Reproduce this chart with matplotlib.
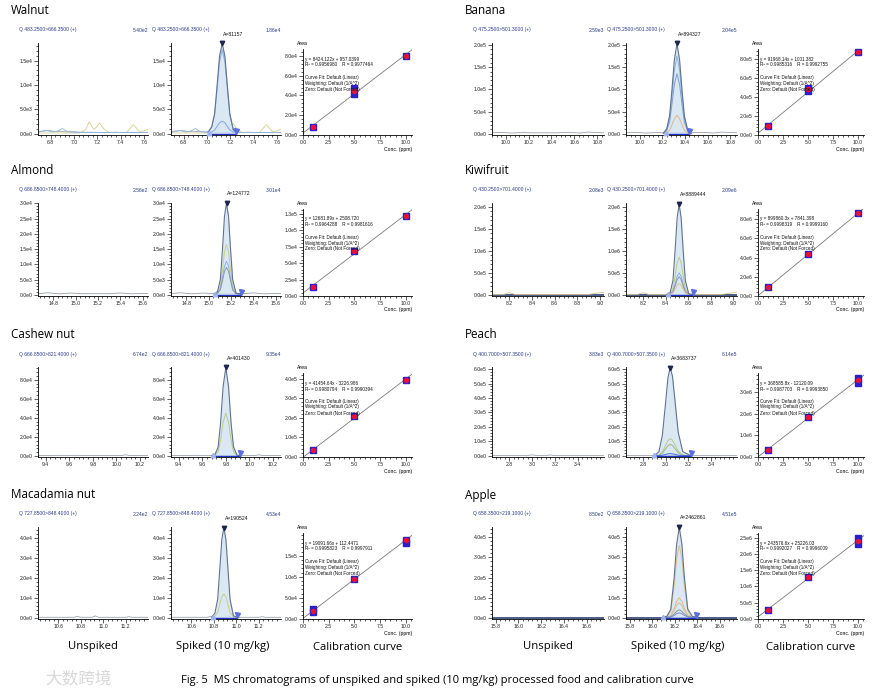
import numpy as np
import matplotlib
matplotlib.use("Agg")
import matplotlib.pyplot as plt
from matplotlib.ticker import FixedLocator, AutoMinorLocator, FuncFormatter

W, H = 896, 691

# ---- data ----
samples = ["Walnut", "Banana", "Almond", "Kiwifruit",
           "Cashew nut", "Peach", "Macadamia nut", "Apple"]
transitions = ["483.2500>666.3500", "475.2500>501.3000", "686.8500>748.4000", "430.2500>701.4000",
               "666.8500>821.4000", "400.7000>507.3500", "727.8500>848.4000", "658.3500>219.1000"]
unspiked_max = ["5.40e2", "2.59e3", "2.56e2", "2.08e3", "6.74e2", "3.83e3", "2.24e2", "8.50e2"]
spiked_max = [1.86e4, 2.04e5, 3.01e4, 2.09e6, 9.35e4, 6.14e5, 4.53e4, 4.51e5]
peak_area = [81157, 894327, 124772, 8889444, 401430, 3683737, 190524, 2462861]

rt_range = [(6.69, 7.635), (9.88, 10.86), (14.663, 15.648), (8.047, 9.035),
            (9.335, 10.268), (2.648, 3.631), (10.419, 11.399), (15.768, 16.752)]
rt_ticks = [[6.8, 7.0, 7.2, 7.4, 7.6], [10.0, 10.2, 10.4, 10.6, 10.8],
            [14.8, 15.0, 15.2, 15.4, 15.6], [8.2, 8.4, 8.6, 8.8, 9.0],
            [9.4, 9.6, 9.8, 10.0, 10.2], [2.8, 3.0, 3.2, 3.4],
            [10.6, 10.8, 11.0, 11.2], [15.8, 16.0, 16.2, 16.4, 16.6]]
int_ticks = [[0, 5e3, 1e4, 1.5e4], [0, 5e4, 1e5, 1.5e5, 2e5],
             [0, 5e3, 1e4, 1.5e4, 2e4, 2.5e4, 3e4], [0, 5e5, 1e6, 1.5e6, 2e6],
             [0, 2e4, 4e4, 6e4, 8e4], [0, 1e5, 2e5, 3e5, 4e5, 5e5, 6e5],
             [0, 1e4, 2e4, 3e4, 4e4], [0, 1e5, 2e5, 3e5, 4e5]]

# integration window (start, end) of the spiked peak
peak_window = [(7.02, 7.245), (10.235, 10.44), (15.06, 15.29), (8.42, 8.64),
               (9.69, 9.92), (2.90, 3.22), (10.79, 11.01), (16.095, 16.39)]

peak_t = [
    [7.01, 7.04, 7.065, 7.085, 7.107, 7.13, 7.153, 7.175, 7.195, 7.225, 7.255],
    [10.21, 10.24, 10.265, 10.285, 10.307, 10.33, 10.353, 10.375, 10.395, 10.425, 10.455],
    [15.05, 15.08, 15.105, 15.125, 15.142, 15.16, 15.178, 15.195, 15.215, 15.245, 15.29],
    [8.41, 8.44, 8.465, 8.485, 8.502, 8.52, 8.538, 8.555, 8.575, 8.605, 8.64],
    [9.68, 9.71, 9.735, 9.755, 9.777, 9.80, 9.823, 9.845, 9.865, 9.895, 9.925],
    [2.90, 2.94, 2.97, 3.00, 3.02, 3.04, 3.06, 3.08, 3.11, 3.15, 3.22],
    [10.78, 10.81, 10.835, 10.855, 10.872, 10.89, 10.908, 10.925, 10.945, 10.975, 11.01],
    [16.09, 16.13, 16.165, 16.195, 16.217, 16.24, 16.263, 16.285, 16.315, 16.355, 16.40],
]
peak_main = [
    [400, 1450, 4200, 9600, 15900, 18500, 15900, 9600, 4200, 850, 330],
    [1500, 12000, 41000, 97000, 166000, 203000, 166000, 97000, 41000, 8000, 1500],
    [300, 1100, 5100, 15600, 25800, 30000, 25800, 15600, 5100, 600, 300],
    [10000, 55000, 330000, 1050000, 1750000, 2060000, 1750000, 1050000, 330000, 25000, 10000],
    [300, 1900, 9600, 33800, 72800, 93000, 72800, 33800, 9600, 800, 300],
    [2000, 30000, 143000, 378000, 543000, 610000, 548000, 395000, 165000, 30000, 2000],
    [300, 2300, 9300, 25500, 39200, 45000, 39200, 25500, 9300, 1000, 300],
    [1500, 8000, 42000, 200000, 365000, 450000, 368000, 205000, 45000, 8000, 1500],
]
peak_inner = [
    [[380, 1350, 3900, 8900, 14700, 17200, 14700, 8900, 3900, 800, 320],
     [300, 400, 800, 1500, 2300, 2600, 2300, 1500, 800, 400, 300]],
    [[1300, 10500, 35000, 84000, 143000, 175000, 143000, 84000, 35000, 7000, 1300],
     [1200, 8000, 27000, 65000, 111000, 135000, 111000, 65000, 27000, 5400, 1200],
     [800, 2500, 8400, 20000, 34000, 42000, 34000, 20000, 8400, 1700, 800]],
    [[300, 700, 2900, 8600, 14100, 16500, 14100, 8600, 2900, 450, 300],
     [300, 580, 2000, 5800, 9400, 11000, 9400, 5800, 2000, 400, 300],
     [300, 530, 1700, 4800, 7700, 9000, 7700, 4800, 1700, 380, 300]],
    [[10000, 30000, 140000, 440000, 730000, 860000, 730000, 440000, 140000, 15000, 10000],
     [10000, 20000, 80000, 255000, 425000, 500000, 425000, 255000, 80000, 12000, 10000],
     [10000, 18000, 66000, 210000, 350000, 410000, 350000, 210000, 66000, 11000, 10000],
     [10000, 15000, 42000, 133000, 221000, 260000, 221000, 133000, 42000, 10000, 10000]],
    [[300, 1000, 4800, 16500, 35300, 45000, 35300, 16500, 4800, 500, 300]],
    [[2000, 7000, 28000, 74000, 107000, 120000, 108000, 78000, 33000, 6000, 2000],
     [2000, 5000, 19000, 50000, 71000, 80000, 72000, 52000, 22000, 4000, 2000],
     [2000, 2500, 5000, 10500, 14500, 16000, 14500, 11000, 5500, 2500, 2000]],
    [[300, 800, 2700, 7000, 10500, 12000, 10500, 7000, 2700, 500, 300]],
    [[1500, 6000, 33000, 158000, 292000, 360000, 294000, 162000, 36000, 6000, 1500],
     [1500, 4000, 12000, 46000, 82000, 100000, 83000, 48000, 14000, 4000, 1500],
     [1500, 3500, 10000, 35000, 62000, 75000, 62000, 36000, 11000, 3500, 1500],
     [1500, 2500, 6000, 19000, 33000, 40000, 33000, 20000, 6500, 2500, 1500],
     [1500, 2000, 4500, 12000, 21000, 25000, 21000, 12500, 5000, 2000, 1500]],
]
inner_colors = [
    ["#8db3e2", "#7fa7e8"],
    ["#8db3e2", "#7f9fd0", "#e8b48a"],
    ["#c7cf8c", "#8db3e2", "#8e96a3"],
    ["#b8cc8a", "#8db3e2", "#8e96a3", "#d9c48f"],
    ["#b8cc8a"],
    ["#b8cc8a", "#a0b48a", "#4a6ee0"],
    ["#c7cf8c"],
    ["#d9c48f", "#e8b48a", "#c8c8a0", "#8e96a3", "#7a8fd6"],
]

# background traces (shared by unspiked and spiked runs)
noise_t = [
    [[6.69, 6.74, 6.78, 6.84, 6.88, 6.95, 7.00, 7.05, 7.30, 7.36, 7.42, 7.47, 7.55, 7.635],
     [6.69, 7.05, 7.10, 7.13, 7.17, 7.20, 7.22, 7.26, 7.30, 7.45, 7.51, 7.56, 7.60, 7.635],
     [6.69, 6.72, 6.76, 6.82, 6.86, 6.90, 6.94, 7.00, 7.635]],
    [[9.88, 9.95, 10.05, 10.15, 10.22, 10.45, 10.55, 10.65, 10.72, 10.86]],
    [[14.663, 14.75, 14.85, 14.95, 15.05, 15.30, 15.40, 15.50, 15.648]],
    [[8.047, 9.035],
     [8.047, 8.15, 8.2, 8.25, 8.9, 8.97, 9.035]],
    [[9.335, 9.6, 9.9, 10.05, 10.08, 10.11, 10.268]],
    [[2.648, 2.95, 3.0, 3.05, 3.12, 3.16, 3.2, 3.631]],
    [[10.419, 10.74, 10.77, 10.8, 10.9, 10.93, 10.96, 11.2, 11.23, 11.26, 11.399]],
    [[15.768, 16.752]],
]
noise_y = [
    [[500, 600, 700, 500, 550, 400, 450, 350, 300, 350, 250, 300, 250, 350],
     [200, 200, 900, 2500, 900, 1600, 2200, 900, 300, 300, 1900, 500, 600, 1000],
     [300, 500, 700, 400, 600, 1100, 500, 300, 300]],
    [[2500, 3500, 2000, 3000, 2500, 2500, 3500, 2000, 4000, 2500]],
    [[400, 700, 350, 600, 400, 400, 650, 350, 500]],
    [[0, 0],
     [10000, 10000, 50000, 10000, 10000, 40000, 60000]],
    [[500, 600, 500, 500, 1200, 500, 500]],
    [[2000, 2000, 7000, 2000, 2000, 7000, 2000, 2000]],
    [[300, 300, 700, 300, 300, 1000, 300, 300, 600, 300, 300]],
    [[1500, 1500]],
]
noise_colors = [["#9aa0a8", "#d6cf8e", "#8db3e2"], ["#9aa0a8"], ["#9aa0a8"],
                ["#2b3f73", "#d9c48f"], ["#9aa0a8"], ["#9aa0a8"], ["#9aa0a8"], ["#2b3f73"]]

# calibration: concentrations, replicate areas, mean area
cal_conc = [1, 5, 10]
cal_reps = [
    [[8.1e3], [4.8e4, 4.1e4], [8.0e4]],
    [[9.0e4], [4.9e5, 4.65e5], [8.75e5]],
    [[1.43e4], [6.8e4], [1.22e5]],
    [[8.9e5], [4.34e6], [8.64e6]],
    [[3.4e4], [2.07e5], [3.95e5]],
    [[3.4e5], [1.85e6], [3.42e6, 3.69e6]],
    [[1.55e4, 2.3e4], [9.56e4], [1.8e5, 1.88e5]],
    [[2.75e5], [1.29e6], [2.29e6, 2.49e6]],
]
cal_mean = [
    [8.1e3, 4.5e4, 8.0e4],
    [9.0e4, 4.8e5, 8.75e5],
    [1.43e4, 6.8e4, 1.22e5],
    [8.9e5, 4.34e6, 8.64e6],
    [3.4e4, 2.07e5, 3.95e5],
    [3.4e5, 1.85e6, 3.57e6],
    [1.94e4, 9.56e4, 1.87e5],
    [2.75e5, 1.29e6, 2.4e6],
]
cal_top = [8.7e4, 9.06e5, 1.32e5, 9.07e6, 4.29e5, 3.9e6, 2.04e5, 2.64e6]
cal_ticks = [[0, 2e4, 4e4, 6e4, 8e4], [0, 2e5, 4e5, 6e5, 8e5],
             [0, 2.5e4, 5e4, 7.5e4, 1e5, 1.25e5], [0, 2e6, 4e6, 6e6, 8e6],
             [0, 1e5, 2e5, 3e5, 4e5], [0, 1e6, 2e6, 3e6],
             [0, 5e4, 1e5, 1.5e5], [0, 5e5, 1e6, 1.5e6, 2e6, 2.5e6]]
cal_eq = [
    ("y = 8424.122x + 957.0399", "R\u00b2 = 0.9956980    R = 0.9977464"),
    ("y = 91968.14x + 1001.382", "R\u00b2 = 0.9985316    R = 0.9992755"),
    ("y = 12681.89x + 2508.720", "R\u00b2 = 0.9964288    R = 0.9981616"),
    ("y = 899860.3x + 7841.398", "R\u00b2 = 0.9998319    R = 0.9999160"),
    ("y = 41454.64x - 3226.986", "R\u00b2 = 0.9980794    R = 0.9990394"),
    ("y = 368585.8x - 12120.09", "R\u00b2 = 0.9987703    R = 0.9993850"),
    ("y = 19091.66x + 112.4471", "R\u00b2 = 0.9995823    R = 0.9997911"),
    ("y = 243576.6x + 25226.03", "R\u00b2 = 0.9992027    R = 0.9996009"),
]
cal_info = ["Curve Fit: Default (Linear)", "Weighting: Default (1/A^2)", "Zero: Default (Not Forced)"]

# ---- layout (pixels) ----
col_x = [[(38, 148), (171, 281), (303, 412)],
         [(492, 604), (626, 737), (758, 864)]]
row_top = [43, 203, 367, 527]
row_bot = [135, 296, 457, 619]

BIG = "Open Sans"
SMALL = "Liberation Sans"
NAVY = "#2d3c8c"


def sci_label(v, pos=None):
    if v == 0:
        return "0.0e0"
    e = int(np.floor(np.log10(abs(v))))
    m = np.floor(v / 10 ** e * 10 + 0.5) / 10
    if m >= 10:
        m, e = m / 10, e + 1
    return f"{m:.1f}e{e}"


def px_axes(fig, x0, x1, y0, y1):
    return fig.add_axes([x0 / W, 1 - y1 / H, (x1 - x0) / W, (y1 - y0) / H])


def style_axes(ax):
    for s in ("top", "right"):
        ax.spines[s].set_visible(False)
    for s in ("left", "bottom"):
        ax.spines[s].set_linewidth(0.6)
    ax.tick_params(which="major", length=2.6, width=0.5, labelsize=3.7, pad=1.2,
                   colors="#222222")
    ax.tick_params(which="minor", length=1.4, width=0.45)
    for lab in ax.get_xticklabels() + ax.get_yticklabels():
        lab.set_family(SMALL)
    ax.xaxis.set_minor_locator(AutoMinorLocator(5))
    ax.yaxis.set_minor_locator(AutoMinorLocator(5))
    ax.patch.set_alpha(0)


fig = plt.figure(figsize=(W / 100, H / 100), dpi=100)

for i, name in enumerate(samples):
    row, grp = i // 2, i % 2
    top, bot = row_top[row], row_bot[row]
    ymax = spiked_max[i]
    lo, hi = rt_range[i]

    fig.text((col_x[grp][0][0] - 27) / W, 1 - (top - 32) / H, name, family=BIG,
             fontsize=8.4, va="center", ha="left")

    for k in range(2):
        x0, x1 = col_x[grp][k]
        ax = px_axes(fig, x0, x1, top, bot)
        ax.set_xlim(lo, hi)
        ax.set_ylim(-0.012 * ymax, ymax)
        ax.xaxis.set_major_locator(FixedLocator(rt_ticks[i]))
        ax.yaxis.set_major_locator(FixedLocator(int_ticks[i]))
        ax.xaxis.set_major_formatter(FuncFormatter(lambda v, p: f"{v:.1f}"))
        ax.yaxis.set_major_formatter(FuncFormatter(sci_label))
        style_axes(ax)

        for t, y, c in zip(noise_t[i], noise_y[i], noise_colors[i]):
            lw = 1.2 if c == "#2b3f73" else 0.6
            ax.plot(t, y, color=c, lw=lw, zorder=2)

        head = "Q " + transitions[i] + " (+)"
        fig.text((x0 - 19) / W, 1 - (top - 13) / H, head, family=SMALL, fontsize=3.6,
                 color=NAVY, va="center")
        if k == 0:
            right_lab = unspiked_max[i]
        else:
            right_lab = f"{spiked_max[i]:.2e}".replace("e+0", "e")
        fig.text(x1 / W, 1 - (top - 13) / H, right_lab, family=SMALL, fontsize=3.6,
                 color=NAVY, va="center", ha="right")

        if k == 1:
            t = peak_t[i]
            ax.fill_between(t, 0, peak_main[i], color="#d3e4f1", alpha=0.85, lw=0, zorder=3)
            for yv, c in zip(peak_inner[i], inner_colors[i]):
                ax.plot(t, yv, color=c, lw=0.7, zorder=4)
            ax.plot(t, peak_main[i], color="#5f7391", lw=0.8, zorder=5)
            s, e = peak_window[i]
            ax.plot([s, e], [0, 0], color="#2233cc", lw=1.0, zorder=6)
            ax.plot([s], [0.01 * ymax], marker="^", ms=3.2, color="#9fb4ee", zorder=7,
                    clip_on=False)
            ax.plot([e], [0.035 * ymax], marker="v", ms=3.6, color="#5c6fe0", zorder=7,
                    clip_on=False)
            apex = int(np.argmax(peak_main[i]))
            ax.plot([t[apex]], [peak_main[i][apex]], marker="v", ms=3.2, color="#1c2550",
                    zorder=8, clip_on=False)
            ax.annotate(f"A={peak_area[i]}", (t[apex], peak_main[i][apex]),
                        xytext=(0.5, 5), textcoords="offset points", fontsize=3.7,
                        family=SMALL, color="#111111", ha="left", va="bottom",
                        annotation_clip=False)

    # calibration curve
    x0, x1 = col_x[grp][2]
    cax = px_axes(fig, x0, x1, top + 6, bot)
    cax.set_xlim(0, 10.6)
    cax.set_ylim(0, cal_top[i])
    cax.xaxis.set_major_locator(FixedLocator([0, 2.5, 5, 7.5, 10]))
    cax.yaxis.set_major_locator(FixedLocator(cal_ticks[i]))
    cax.xaxis.set_major_formatter(FuncFormatter(lambda v, p: f"{v:.1f}"))
    cax.yaxis.set_major_formatter(FuncFormatter(sci_label))
    style_axes(cax)
    slope, icpt = np.polyfit(cal_conc, cal_mean[i], 1)
    xs = np.array([0, 10.6])
    cax.plot(xs, slope * xs + icpt, color="#7a7a7a", lw=0.6, zorder=2)
    for c, reps in zip(cal_conc, cal_reps[i]):
        cax.plot([c] * len(reps), reps, ls="none", marker="s", ms=4.3, color="#2a1fc8",
                 zorder=3, clip_on=False)
    cax.plot(cal_conc, cal_mean[i], ls="none", marker="o", ms=3.0, color="#e3123e",
             zorder=4, clip_on=False)
    lines = [cal_eq[i][0], cal_eq[i][1], ""] + cal_info
    for j, s in enumerate(lines):
        fig.text((x0 + 2) / W, 1 - (top + 6 + 10 + 6 * j) / H, s, family=SMALL,
                 fontsize=3.3, color="#111111", va="center")
    fig.text((x0 - 6) / W, 1 - (top + 3) / H, "Area", family=SMALL, fontsize=3.7,
             va="bottom")
    fig.text(x1 / W, 1 - (bot + 14) / H, "Conc. (ppm)", family=SMALL, fontsize=3.7,
             va="center", ha="right")

# column captions
for grp in range(2):
    for k, lab in enumerate(["Unspiked", "Spiked (10 mg/kg)", "Calibration curve"]):
        x0, x1 = col_x[grp][k]
        fig.text((x0 + x1) / 2 / W - (0.004 if k == 1 else 0), 1 - 647 / H, lab,
                 family=BIG, fontsize=8.1, ha="center", va="center")

fig.text(437 / W, 1 - 680 / H,
         "Fig. 5  MS chromatograms of unspiked and spiked (10 mg/kg) processed food and calibration curve",
         family=BIG, fontsize=8.0, ha="center", va="center")
fig.text(45 / W, 1 - 680 / H, "大数跨境", family=["Noto Sans CJK SC", "DejaVu Sans"],
         fontsize=12, color="#d8d8d8", va="center")

fig.savefig("out.png", dpi=100)
